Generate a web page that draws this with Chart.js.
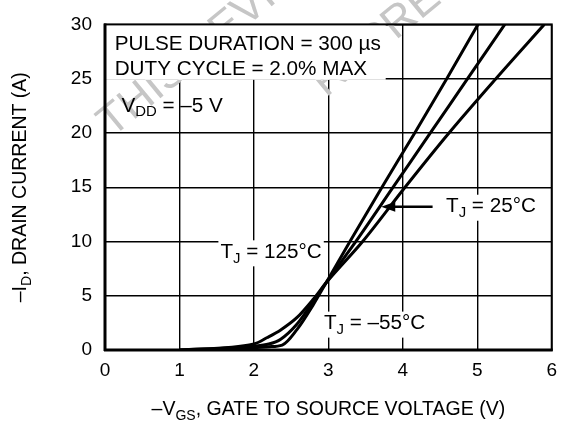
<!DOCTYPE html>
<html>
<head>
<meta charset="utf-8">
<script src="https://cdn.jsdelivr.net/npm/chart.js@4"></script>
<style>
  html, body { margin: 0; padding: 0; background: #fff; }
  #wrap { width: 566px; height: 423px; }
</style>
</head>
<body>
<div id="wrap"><canvas id="chart" width="566" height="423"></canvas></div>
<script>
// transfer characteristics
const vgsCold = [1.2, 2.0, 2.2, 2.38, 2.58, 2.8, 2.97, 3.29, 3.72, 4.16, 4.59, 5.01];
const idCold  = [0, 0.2, 0.3, 0.45, 1.9, 4.2, 6.2, 10, 15, 20, 25, 30];

const vgsRoom = [1.0, 2.0, 2.2, 2.36, 2.58, 2.8, 2.97, 3.37, 3.87, 4.37, 4.87, 5.37];
const idRoom  = [0, 0.35, 0.55, 1.0, 2.4, 4.5, 6.2, 10, 15, 20, 25, 30];

const vgsHot = [1.0, 2.0, 2.18, 2.36, 2.58, 2.8, 2.97, 3.46, 4.03, 4.62, 5.25, 5.9];
const idHot  = [0, 0.55, 1.15, 1.85, 3.0, 4.7, 6.2, 10, 15, 20, 25, 30];

const xTicks = [0, 1, 2, 3, 4, 5, 6];
const yTicks = [0, 5, 10, 15, 20, 25, 30];

const FONT = '"Liberation Sans", Arial, Helvetica, sans-serif';

function toPoints(xs, ys) {
  return xs.map((x, i) => ({x: x, y: ys[i]}));
}

// text with subscripts: parts like [["T"], ["J", true], [" = 25°C"]]
function richWidth(ctx, parts, size) {
  let w = 0;
  parts.forEach(p => {
    ctx.font = (p[1] ? size * 0.72 : size) + 'px ' + FONT;
    w += ctx.measureText(p[0]).width;
  });
  return w;
}

function drawRich(ctx, parts, x, y, size, align) {
  const w = richWidth(ctx, parts, size);
  let cx = align === 'center' ? x - w / 2 : x;
  ctx.textBaseline = 'middle';
  ctx.textAlign = 'left';
  parts.forEach(p => {
    const sub = !!p[1];
    ctx.font = (sub ? size * 0.72 : size) + 'px ' + FONT;
    ctx.fillText(p[0], cx, sub ? y + size * 0.3 : y);
    cx += ctx.measureText(p[0]).width;
  });
  return w;
}

const annotations = {
  id: 'annotations',
  beforeDatasetsDraw(chart) {
    const ctx = chart.ctx;
    const xs = chart.scales.x, ys = chart.scales.y;
    const area = chart.chartArea;
    ctx.save();

    // faint watermark behind everything
    ctx.fillStyle = '#c6c6c6';
    ctx.font = '44px ' + FONT;
    ctx.textBaseline = 'alphabetic';
    ctx.textAlign = 'left';
    ctx.save();
    ctx.translate(112, 138);
    ctx.rotate(-0.69);
    ctx.fillText('THIS DEVICE', 0, 0);
    ctx.restore();
    ctx.save();
    ctx.translate(326, 98);
    ctx.rotate(-0.69);
    ctx.fillText('REPRESENTATIVE', 0, 0);
    ctx.restore();

    // white box behind the test conditions
    ctx.fillStyle = '#fff';
    ctx.fillRect(area.left, area.top, xs.getPixelForValue(3.77) - area.left, ys.getPixelForValue(24.9) - area.top);

    ctx.fillStyle = '#000';
    const size = 20.7;
    drawRich(ctx, [['PULSE DURATION = 300 µs']], xs.getPixelForValue(0.13), ys.getPixelForValue(28.2), size);
    drawRich(ctx, [['DUTY CYCLE = 2.0% MAX']], xs.getPixelForValue(0.13), ys.getPixelForValue(25.85), size);
    drawRich(ctx, [['V'], ['DD', true], [' = –5 V']], xs.getPixelForValue(0.22), ys.getPixelForValue(22.5), size);

    // temperature labels on white boxes
    const labels = [
      {parts: [['T'], ['J', true], [' = 125°C']], x: 1.55, y: 9.0},
      {parts: [['T'], ['J', true], [' = –55°C']], x: 2.94, y: 2.43},
      {parts: [['T'], ['J', true], [' = 25°C']], x: 4.58, y: 13.2}
    ];
    labels.forEach(l => {
      const px = xs.getPixelForValue(l.x), py = ys.getPixelForValue(l.y);
      const w = richWidth(ctx, l.parts, size);
      ctx.fillStyle = '#fff';
      ctx.fillRect(px - 2, py - 12, w + 4, 26);
      ctx.fillStyle = '#000';
      drawRich(ctx, l.parts, px, py, size);
    });

    // arrow pointing at the 25°C curve
    const ax0 = xs.getPixelForValue(4.40), ax1 = xs.getPixelForValue(3.71);
    const ay = ys.getPixelForValue(13.2);
    ctx.strokeStyle = '#000';
    ctx.lineWidth = 2.5;
    ctx.beginPath();
    ctx.moveTo(ax0, ay);
    ctx.lineTo(ax1 + 8, ay);
    ctx.stroke();
    ctx.beginPath();
    ctx.moveTo(ax1, ay);
    ctx.lineTo(ax1 + 14, ay - 5);
    ctx.lineTo(ax1 + 14, ay + 5);
    ctx.closePath();
    ctx.fillStyle = '#000';
    ctx.fill();

    ctx.restore();
  },
  afterDatasetsDraw(chart) {
    const ctx = chart.ctx;
    const a = chart.chartArea;
    ctx.save();
    ctx.strokeStyle = '#000';
    ctx.lineWidth = 2;
    ctx.strokeRect(a.left, a.top, a.right - a.left, a.bottom - a.top);
    ctx.lineWidth = 3;
    ctx.beginPath();
    ctx.moveTo(a.left - 1, a.bottom);
    ctx.lineTo(a.right + 1, a.bottom);
    ctx.moveTo(a.left, a.top - 1);
    ctx.lineTo(a.left, a.bottom + 1);
    ctx.stroke();

    // axis titles
    ctx.fillStyle = '#000';
    drawRich(ctx, [['–V'], ['GS', true], [', GATE TO SOURCE VOLTAGE (V)']], (a.left + a.right) / 2, 410, 19.5, 'center');
    ctx.translate(21, (a.top + a.bottom) / 2);
    ctx.rotate(-Math.PI / 2);
    drawRich(ctx, [['–I'], ['D', true], [', DRAIN CURRENT (A)']], 0, 0, 19.5, 'center');
    ctx.restore();
  }
};

const lineStyle = {
  showLine: true,
  borderColor: '#000',
  borderWidth: 3,
  pointRadius: 0,
  fill: false,
  cubicInterpolationMode: 'monotone'
};

new Chart(document.getElementById('chart'), {
  type: 'scatter',
  data: {
    datasets: [
      {label: 'TJ = -55°C', data: toPoints(vgsCold, idCold), ...lineStyle},
      {label: 'TJ = 25°C', data: toPoints(vgsRoom, idRoom), ...lineStyle},
      {label: 'TJ = 125°C', data: toPoints(vgsHot, idHot), ...lineStyle}
    ]
  },
  options: {
    responsive: false,
    animation: false,
    devicePixelRatio: 1,
    layout: {padding: {top: 17, right: 8, left: 0, bottom: 0}},
    plugins: {
      legend: {display: false},
      tooltip: {enabled: false}
    },
    scales: {
      x: {
        type: 'linear',
        min: 0,
        max: 6,
        afterBuildTicks: s => { s.ticks = xTicks.map(v => ({value: v})); },
        afterFit: s => { s.height = 73; },
        grid: {color: '#000', lineWidth: 1.4, drawTicks: false},
        border: {display: false},
        ticks: {color: '#000', font: {family: FONT, size: 19}, padding: 9}
      },
      y: {
        type: 'linear',
        min: 0,
        max: 30,
        afterBuildTicks: s => { s.ticks = yTicks.map(v => ({value: v})); },
        afterFit: s => { s.width = 105; },
        grid: {color: '#000', lineWidth: 1.4, drawTicks: false},
        border: {display: false},
        ticks: {color: '#000', font: {family: FONT, size: 19}, padding: 13}
      }
    }
  },
  plugins: [annotations]
});
</script>
</body>
</html>
